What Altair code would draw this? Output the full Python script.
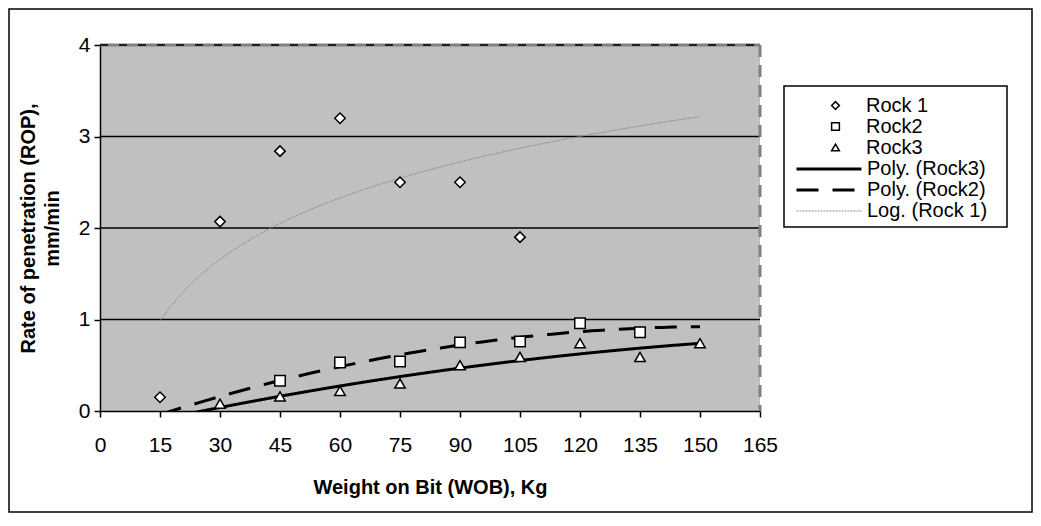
import pandas as pd
import altair as alt

# values
wob_rock1 = [15, 30, 45, 60, 75, 90, 105]
rop_rock1 = [0.15, 2.07, 2.84, 3.20, 2.50, 2.50, 1.90]
wob_rock2 = [45, 60, 75, 90, 105, 120, 135]
rop_rock2 = [0.33, 0.53, 0.54, 0.75, 0.76, 0.96, 0.86]
wob_rock3 = [30, 45, 60, 75, 90, 105, 120, 135, 150]
rop_rock3 = [0.08, 0.16, 0.22, 0.30, 0.50, 0.59, 0.74, 0.59, 0.74]

x_ticks = [0, 15, 30, 45, 60, 75, 90, 105, 120, 135, 150, 165]
y_ticks = [0, 1, 2, 3, 4]
grid_vals = [1, 2, 3]

rock_names = ["Rock 1", "Rock2", "Rock3"]
rock_shapes = ["diamond", "square", "triangle-up"]
rock_strokes = ["black", "black", "black"]
trend_names = ["Poly. (Rock3)", "Poly. (Rock2)", "Log. (Rock 1)"]
trend_colors = ["black", "black", "#8c8c8c"]
trend_dash = [[1, 0], [22, 14], [2, 1]]
trend_widths = [3, 3, 1]
trend_extent = [15, 150]

FONT = "Liberation Sans"

rock1 = pd.DataFrame({"wob": wob_rock1, "rop": rop_rock1, "rock": "Rock 1"})
rock2 = pd.DataFrame({"wob": wob_rock2, "rop": rop_rock2, "rock": "Rock2"})
rock3 = pd.DataFrame({"wob": wob_rock3, "rop": rop_rock3, "rock": "Rock3"})
points = pd.concat([rock1, rock2, rock3], ignore_index=True)
one = pd.DataFrame({"a": [0]})

x_enc = alt.X("wob:Q", scale=alt.Scale(domain=[0, 165], nice=False),
              axis=alt.Axis(values=x_ticks, title="Weight on Bit (WOB), Kg",
                            titleFontSize=20, titleFontWeight="bold", titleColor="black",
                            titlePadding=22, labelFontSize=21, labelColor="black",
                            labelPadding=17, labelFlush=False, labelOverlap=False,
                            tickSize=6, tickColor="black", tickWidth=1.5,
                            domainColor="black", domainWidth=1.5, grid=False))
y_enc = alt.Y("rop:Q", scale=alt.Scale(domain=[0, 4], nice=False),
              axis=alt.Axis(values=y_ticks, title=["Rate of penetration (ROP),", "mm/min"],
                            titleFontSize=20, titleFontWeight="bold", titleColor="black",
                            titleLineHeight=24, titlePadding=16,
                            labelFontSize=21, labelColor="black", labelPadding=4,
                            labelFlush=False, tickSize=6, tickColor="black", tickWidth=1.5,
                            domainColor="black", domainWidth=1.5, grid=False))

trend_legend = alt.Legend(orient="none", legendX=695, legendY=113.5, title=None,
                          symbolType="stroke", symbolSize=4225, labelOffset=4,
                          labelFontSize=20, labelFont=FONT, labelColor="black",
                          clipHeight=21, rowPadding=0, padding=0)

rock_legend = alt.Legend(orient="none", legendX=725.5, legendY=50, title=None,
                         symbolSize=60, symbolFillColor="white", symbolStrokeWidth=1.5,
                         labelOffset=20.5, labelFontSize=20, labelFont=FONT,
                         labelColor="black", clipHeight=21, rowPadding=0, padding=0)


def trend_layer(df, name, method, order=2):
    if method == "poly":
        base = alt.Chart(df).transform_regression("wob", "rop", method="poly", order=order,
                                                  extent=trend_extent)
    else:
        base = alt.Chart(df).transform_regression("wob", "rop", method=method,
                                                  extent=trend_extent)
    return base.transform_calculate(trend=f"'{name}'").mark_line(clip=True).encode(
        x=x_enc, y=y_enc,
        color=alt.Color("trend:N", scale=alt.Scale(domain=trend_names, range=trend_colors),
                        legend=trend_legend),
        strokeDash=alt.StrokeDash("trend:N", scale=alt.Scale(domain=trend_names, range=trend_dash),
                                  legend=trend_legend),
        strokeWidth=alt.StrokeWidth("trend:N",
                                    scale=alt.Scale(type="ordinal", domain=trend_names,
                                                    range=trend_widths),
                                    legend=trend_legend),
    )


# horizontal gridlines
grid = alt.Chart(pd.DataFrame({"rop": grid_vals})).mark_rule(color="black", strokeWidth=1.5).encode(
    y=y_enc
)

# excel style plot border on top / right
top_edge = alt.Chart(one).mark_rule(color="#808080", strokeWidth=3).encode(
    x=alt.value(0), x2=alt.value(660), y=alt.value(0))
top_dash = alt.Chart(one).mark_rule(color="black", strokeWidth=1.5, strokeDash=[8, 11]).encode(
    x=alt.value(0), x2=alt.value(660), y=alt.value(0))
right_edge = alt.Chart(one).mark_rule(color="#808080", strokeWidth=3, strokeDash=[12, 8]).encode(
    x=alt.value(660), y=alt.value(0), y2=alt.value(366))

log_rock1 = trend_layer(rock1, "Log. (Rock 1)", "log")
poly_rock2 = trend_layer(rock2, "Poly. (Rock2)", "poly")
poly_rock3 = trend_layer(rock3, "Poly. (Rock3)", "poly")

scatter = alt.Chart(points).mark_point(filled=False, fill="white", strokeWidth=1.5,
                                       size=110, opacity=1).encode(
    x=x_enc, y=y_enc,
    shape=alt.Shape("rock:N", scale=alt.Scale(domain=rock_names, range=rock_shapes),
                    legend=rock_legend),
    stroke=alt.Stroke("rock:N", scale=alt.Scale(domain=rock_names, range=rock_strokes),
                      legend=rock_legend),
)

legend_box = alt.Chart(one).mark_rect(fill="white", stroke="black", strokeWidth=1.5).encode(
    x=alt.value(684), x2=alt.value(907), y=alt.value(41), y2=alt.value(182))

outer_box = alt.Chart(one).mark_rect(fill="transparent", stroke="black", strokeWidth=1.5).encode(
    x=alt.value(-91), x2=alt.value(932), y=alt.value(-36), y2=alt.value(467))

chart = alt.layer(
    outer_box, grid, top_edge, top_dash, right_edge,
    log_rock1, poly_rock2, poly_rock3, scatter, legend_box,
).properties(
    width=660, height=366, autosize="none",
    padding={"left": 92, "top": 37, "right": 273, "bottom": 102},
).configure(font=FONT).configure_view(fill="#C0C0C0", strokeWidth=0)

chart.save("out.html", embed_options={"renderer": "svg", "actions": False})
